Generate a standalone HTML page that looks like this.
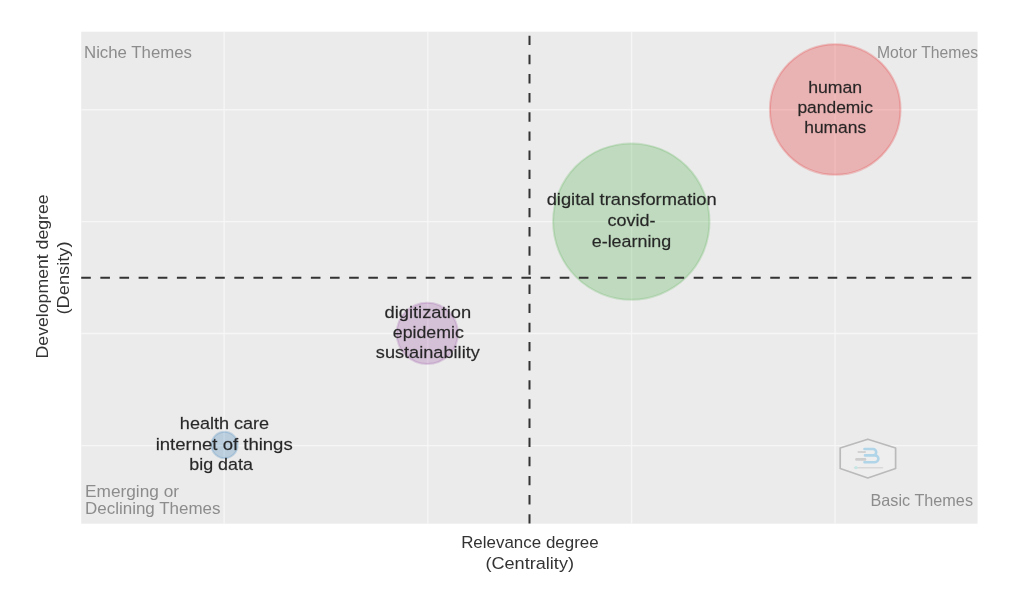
<!DOCTYPE html>
<html><head><meta charset="utf-8">
<style>
html,body{margin:0;padding:0;background:#fff;}
body{width:1011px;height:596px;overflow:hidden;}
svg{display:block;will-change:transform;}
text{font-family:"Liberation Sans",sans-serif;}
</style></head>
<body>
<svg width="1011" height="596" viewBox="0 0 1011 596">
<rect x="0" y="0" width="1011" height="596" fill="#ffffff"/>
<rect x="81.2" y="31.7" width="896.4" height="492" fill="#ebebeb"/>
<g stroke="#f6f6f6" stroke-width="1.4">
<line x1="224.1" y1="31.7" x2="224.1" y2="523.7"/>
<line x1="427.8" y1="31.7" x2="427.8" y2="523.7"/>
<line x1="631.6" y1="31.7" x2="631.6" y2="523.7"/>
<line x1="835.0" y1="31.7" x2="835.0" y2="523.7"/>
<line x1="81.2" y1="109.7" x2="977.6" y2="109.7"/>
<line x1="81.2" y1="221.6" x2="977.6" y2="221.6"/>
<line x1="81.2" y1="333.5" x2="977.6" y2="333.5"/>
<line x1="81.2" y1="445.6" x2="977.6" y2="445.6"/>
</g>
<!-- bubbles -->
<g stroke-width="2">
<circle cx="835.2" cy="109.5" r="65.3" fill="rgba(228,26,28,0.27)" stroke="rgba(228,26,28,0.22)"/>
<circle cx="631.3" cy="221.6" r="78.2" fill="rgba(77,175,74,0.27)" stroke="rgba(77,175,74,0.22)"/>
<circle cx="427.3" cy="333.4" r="30.6" fill="rgba(152,78,163,0.27)" stroke="rgba(152,78,163,0.22)"/>
<circle cx="224.5" cy="445" r="13.2" fill="rgba(55,126,184,0.27)" stroke="rgba(55,126,184,0.22)"/>
</g>
<!-- dashed lines -->
<line x1="81.2" y1="277.8" x2="977.6" y2="277.8" stroke="#333333" stroke-width="2" stroke-dasharray="9.6 9.54"/>
<line x1="529.5" y1="523.6" x2="529.5" y2="31.7" stroke="#333333" stroke-width="2" stroke-dasharray="9.4 9.74"/>
<!-- quadrant labels -->
<g fill="#8c8c8c" font-size="16.5">
<text x="84" y="58.1" textLength="108" lengthAdjust="spacingAndGlyphs">Niche Themes</text>
<text x="978" y="57.5" text-anchor="end" textLength="101" lengthAdjust="spacingAndGlyphs">Motor Themes</text>
<text x="85" y="496.5" textLength="94" lengthAdjust="spacingAndGlyphs">Emerging or</text>
<text x="85" y="514.3" textLength="135.5" lengthAdjust="spacingAndGlyphs">Declining Themes</text>
<text x="973" y="505.6" text-anchor="end" textLength="102.5" lengthAdjust="spacingAndGlyphs">Basic Themes</text>
</g>
<!-- bubble labels -->
<g fill="#1e1e1e" fill-opacity="0.95" stroke="#1e1e1e" stroke-opacity="0.6" stroke-width="0.3" font-size="16.8" text-anchor="middle">
<text x="835.2" y="93" textLength="54" lengthAdjust="spacingAndGlyphs">human</text>
<text x="835.2" y="112.6" textLength="75.5" lengthAdjust="spacingAndGlyphs">pandemic</text>
<text x="835.2" y="132.8" textLength="62" lengthAdjust="spacingAndGlyphs">humans</text>
<text x="631.7" y="204.6" textLength="170" lengthAdjust="spacingAndGlyphs">digital transformation</text>
<text x="631.5" y="226" textLength="48" lengthAdjust="spacingAndGlyphs">covid-</text>
<text x="631.5" y="246.6" textLength="79.5" lengthAdjust="spacingAndGlyphs">e-learning</text>
<text x="427.8" y="317.7" textLength="86.6" lengthAdjust="spacingAndGlyphs">digitization</text>
<text x="428.3" y="337.7" textLength="71" lengthAdjust="spacingAndGlyphs">epidemic</text>
<text x="427.8" y="357.6" textLength="104" lengthAdjust="spacingAndGlyphs">sustainability</text>
<text x="224.5" y="428.7" textLength="89.3" lengthAdjust="spacingAndGlyphs">health care</text>
<text x="224.2" y="449.5" textLength="137" lengthAdjust="spacingAndGlyphs">internet of things</text>
<text x="221.1" y="469.5" textLength="63.6" lengthAdjust="spacingAndGlyphs">big data</text>
</g>
<!-- axis titles -->
<g fill="#333333" font-size="16.3" text-anchor="middle">
<text x="529.9" y="548" textLength="137.5" lengthAdjust="spacingAndGlyphs">Relevance degree</text>
<text x="529.7" y="568.6" textLength="88.6" lengthAdjust="spacingAndGlyphs">(Centrality)</text>
<text transform="translate(48.3 276.4) rotate(-90)" x="0" y="0" textLength="164" lengthAdjust="spacingAndGlyphs">Development degree</text>
<text transform="translate(68.5 278) rotate(-90)" x="0" y="0" textLength="73" lengthAdjust="spacingAndGlyphs">(Density)</text>
</g>
<!-- logo -->
<g>
<polygon points="867.8,439.2 895.6,448 895.6,468.5 867.8,478 840.2,468.5 840.2,448" fill="#eeeeee" stroke="#bababa" stroke-width="1.7" stroke-linejoin="round"/>
<g fill="none" stroke-linecap="round">
<line x1="858.5" y1="452" x2="865" y2="452" stroke="#d2d2d2" stroke-width="2.2"/>
<line x1="856.5" y1="459.4" x2="865" y2="459.4" stroke="#cdcdcd" stroke-width="2.6"/>
<path d="M864.5,449 H873 A3.2,3.2 0 0 1 873,455.4 H865 M873,455.4 H875 A3.4,3.4 0 0 1 875,462.2 H864.5" stroke="#b0d4e8" stroke-width="2.6"/>
<line x1="854.5" y1="467.8" x2="882.5" y2="467.8" stroke="#d8d8d8" stroke-width="1.5"/><circle cx="856" cy="467.6" r="1.6" fill="#c6e6e6"/>
</g>
</g>
</svg>
</body></html>
